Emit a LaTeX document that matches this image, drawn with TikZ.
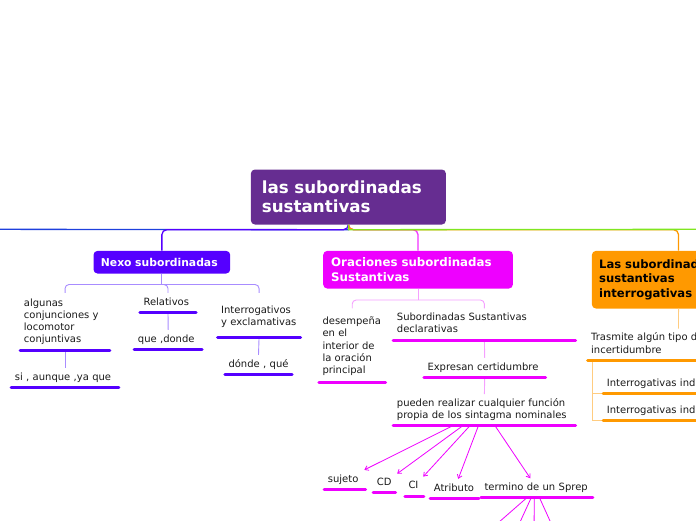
\documentclass[tikz,border=0pt]{standalone}
\usepackage{fontspec}
\setmainfont{DejaVu Sans}
\usetikzlibrary{arrows.meta,calc}
\definecolor{rootc}{HTML}{662D91}
\definecolor{violc}{HTML}{5500FF}
\definecolor{lavc}{HTML}{A88CFF}
\definecolor{magc}{HTML}{EE00FF}
\definecolor{pinkc}{HTML}{F5A0FF}
\definecolor{orc}{HTML}{FF9900}
\definecolor{lorc}{HTML}{FFCC80}
\definecolor{bluec}{HTML}{1E40DD}
\definecolor{greenc}{HTML}{80E620}
\definecolor{txtc}{HTML}{1A1A1A}
\newcommand\rootfont{\fontsize{16.7}{18.8}\selectfont\bfseries}
\newcommand\nexofont{\fontsize{10.8}{13}\selectfont\bfseries}
\newcommand\orafont{\fontsize{11.8}{14.6}\selectfont\bfseries}
\newcommand\orbfont{\fontsize{11.6}{14.2}\selectfont\bfseries}
\newcommand\leaffont{\fontsize{10}{12.2}\selectfont}
\newcommand\xdepth[1]{\rule[-#1]{0pt}{0pt}}
\tikzset{
  box/.style={rectangle, rounded corners=4pt, anchor=north west, align=left, inner ysep=0pt},
  leaf/.style={rectangle, anchor=south west, align=left, inner xsep=5pt, inner ysep=3.4pt,
    text=txtc, font=\leaffont, execute at begin node=\strut, execute at end node=\strut},
  mainl/.style={line width=1.3pt},
  subl/.style={line width=0.9pt},
  ul/.style={line width=3pt, line cap=round, shorten <=1.5pt, shorten >=1.5pt},
  arrM/.style={line width=0.8pt, draw=magc, -{Straight Barb[length=3.5pt,width=5pt]}}
}
\begin{document}
\begin{tikzpicture}[x=1pt,y=-1pt]
\useasboundingbox (0,0) rectangle (696,520);
\clip (0,0) rectangle (696,520);

% ---------- boxes ----------
\node[box, fill=rootc, text=white, font=\rootfont, minimum width=195pt, minimum height=55pt,
  text width=173pt, inner xsep=11pt] (root) at (250.7,169.3) {las subordinadas\\sustantivas};
\node[box, fill=violc, text=white, font=\nexofont, minimum width=136.7pt, minimum height=22.6pt,
  text width=121.9pt, inner xsep=7.4pt] (nexo) at (93.3,250.7) {Nexo subordinadas};
\node[box, fill=magc, text=white, font=\orafont, minimum width=189.7pt, minimum height=37.6pt,
  text width=173.7pt, inner xsep=8pt] (ora) at (323,250.7) {Oraciones subordinadas\\Sustantivas};
\node[box, fill=orc, text=black, font=\orbfont, minimum width=173.3pt, minimum height=57.6pt,
  text width=158.7pt, inner xsep=7.3pt] (orb) at (591.7,250.7) {Las subordinadas\\sustantivas\\interrogativas};

% ---------- leaves: Nexo branch ----------
\node[leaf, text width=82.3pt] (alg) at (18.7,350) {algunas\\conjunciones y\\locomotor\\conjuntivas};
\node[leaf, text width=100.3pt] (si) at (9.7,387.3) {si , aunque ,ya que};
\node[leaf, text width=49pt] (rel) at (138.3,312.3) {Relativos};
\node[leaf, text width=60.6pt] (que) at (132.7,349.3) {que ,donde};
\node[leaf, text width=75.7pt] (int) at (216,337.3) {Interrogativos\\y exclamativas\xdepth{8.1pt}};
\node[leaf, text width=60pt] (don) at (223.3,374.3) {dónde , qué};

% ---------- leaves: Oraciones branch ----------
\node[leaf, text width=59.4pt] (des) at (317.3,382.7) {desempeña\\en el\\interior de\\la oración\\principal\xdepth{5.7pt}};
\node[leaf, text width=175pt] (decl) at (391.7,340) {Subordinadas Sustantivas\\declarativas};
\node[leaf, text width=114.4pt] (expr) at (422.3,377.3) {Expresan certidumbre};
\node[leaf, text width=175pt] (pued) at (391.7,425.7) {pueden realizar cualquier función\\propia de los sintagma nominales};
\node[leaf, text width=34pt] (suj) at (322.7,489.3) {sujeto};
\node[leaf, text width=15pt] (cd) at (371.7,492.7) {CD};
\node[leaf, text width=11.7pt] (ci) at (403.3,496) {CI};
\node[leaf, text width=41.3pt] (atr) at (428.7,498.3) {Atributo};
\node[leaf, text width=104.7pt] (ter) at (479.3,497.7) {termino de un Sprep};

% ---------- leaves: orange branch ----------
\node[leaf, text width=174.6pt] (tras) at (586,360.3) {Trasmite algún tipo de\\incertidumbre};
\node[leaf, text width=200pt] (iit) at (601.7,393.3) {Interrogativas indirectas totales};
\node[leaf, text width=200pt] (iip) at (601.7,420.7) {Interrogativas indirectas parciales};

% ---------- main connectors ----------
\coordinate (offL) at (-20,229.3);
\coordinate (offR) at (720,229.3);
\draw[mainl, bluec] (root.south) -- ++(0,5) -- (offL);
\draw[mainl, violc, rounded corners=5pt] (root.south) -- ++(0,5) -| (nexo.north);
\draw[mainl, magc!80, rounded corners=5pt] (root.south) -- ++(0,5) -| (ora.north);
\draw[mainl, orc, rounded corners=5pt] (root.south) -- ++(0,5) -| (orb.north);
\draw[mainl, greenc] (root.south) -- ++(0,5) -- (offR);

% ---------- Nexo sub-connectors ----------
\coordinate (nbus) at (0,284.5);
\draw[subl, lavc] (nexo.south) -- (nexo.south |- nbus);
\foreach \c in {alg,rel,int}
  \draw[subl, lavc, rounded corners=4pt] (nexo.south |- nbus) -| (\c.north |- rel.north);
\draw[subl, lavc] (alg.south) -- (si.north);
\draw[subl, lavc] (rel.south) -- (que.north);
\draw[subl, lavc] (int.south) -- (don.north);

% ---------- Oraciones sub-connectors ----------
\coordinate (mbus) at (0,300);
\draw[subl, pinkc] (ora.south) -- (ora.south |- mbus);
\draw[subl, pinkc, rounded corners=4pt] (ora.south |- mbus) -| (des.north |- decl.north);
\draw[subl, pinkc, rounded corners=4pt] (ora.south |- mbus) -| (decl.north);
\draw[subl, pinkc] (decl.south) -- (expr.north);
\draw[subl, pinkc] (expr.south) -- (pued.north);

% ---------- orange sub-connectors ----------
\draw[subl, lorc] (orb.south) -- (tras.north);
\draw[subl, lorc] ([xshift=6.3pt]tras.south west) |- (iit.south west);
\draw[subl, lorc] ([xshift=6.3pt]tras.south west) |- (iip.south west);

% ---------- arrows ----------
\draw[arrM] (pued) -- (suj);
\draw[arrM] (pued) -- (cd);
\draw[arrM] (pued) -- (ci);
\draw[arrM] (pued) -- (atr);
\draw[arrM] (pued) -- (ter);
\coordinate (o1) at (455.6,560);
\coordinate (o2) at (502.6,560);
\coordinate (o3) at (534,560);
\coordinate (o4) at (567.7,560);
\draw[arrM] ([xshift=-9.95pt]ter.south) -- (o1);
\draw[arrM] ([xshift=-5.65pt]ter.south) -- (o2);
\draw[arrM] ([xshift=-2.65pt]ter.south) -- (o3);
\draw[arrM] ([xshift=2.65pt]ter.south) -- (o4);

% ---------- underlines ----------
\foreach \n in {alg,si,rel,que,int,don}
  \draw[ul, violc] (\n.south west) -- (\n.south east);
\foreach \n in {des,decl,expr,pued,suj,cd,ci,atr,ter}
  \draw[ul, magc] (\n.south west) -- (\n.south east);
\foreach \n in {tras,iit,iip}
  \draw[ul, orc] (\n.south west) -- (\n.south east);
\end{tikzpicture}
\end{document}
